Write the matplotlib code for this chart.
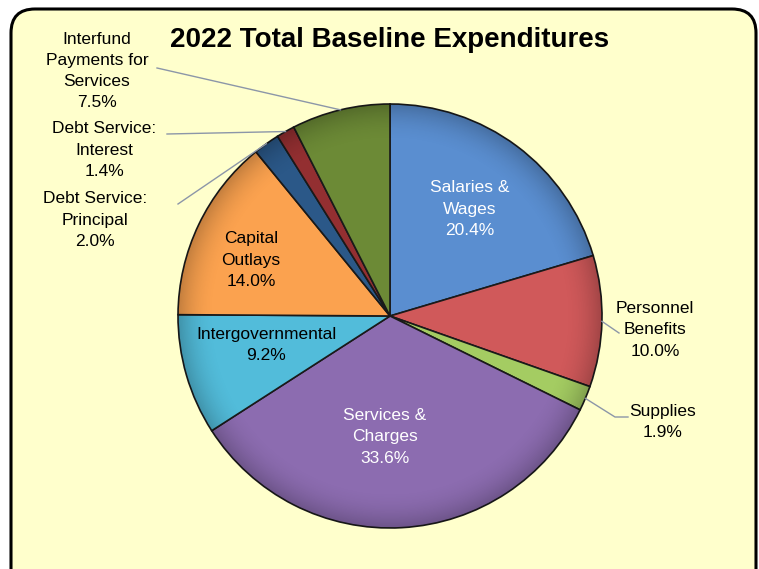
import numpy as np
import matplotlib.pyplot as plt
from matplotlib.patches import FancyBboxPatch, Circle

plt.rcParams['font.family'] = ['Liberation Sans', 'DejaVu Sans']

# data
categories = ['Salaries &\nWages', 'Personnel\nBenefits', 'Supplies', 'Services &\nCharges',
              'Intergovernmental', 'Capital\nOutlays', 'Debt Service:\nPrincipal',
              'Debt Service:\nInterest', 'Interfund\nPayments for\nServices']
shares = [20.4, 10.0, 1.9, 33.6, 9.2, 14.0, 2.0, 1.4, 7.5]
colors = ['#5A8ED0', '#D0595A', '#A4CC62', '#8C6CB0', '#52BCDA',
          '#FBA24F', '#2B5888', '#932F31', '#6C8A36']

W, H = 759, 569
fig = plt.figure(figsize=(W / 100, H / 100), dpi=100)
fig.patch.set_facecolor('white')
ax = fig.add_axes([0, 0, 1, 1])

# rounded panel
panel = FancyBboxPatch((11, -40), 745, H - 9 + 40, boxstyle='round,pad=0,rounding_size=24',
                       facecolor='#FFFFCC', edgecolor='black', linewidth=2.2, zorder=0)
ax.add_patch(panel)

cx, cy, R = 390, H - 316, 212
wedges, _ = ax.pie(shares, colors=colors, startangle=90, counterclock=False,
                   center=(cx, cy), radius=R, frame=True,
                   wedgeprops=dict(edgecolor='#1a1a1a', linewidth=1.2))
ax.set_xlim(0, W)
ax.set_ylim(0, H)
ax.set_aspect('equal')
ax.axis('off')
for w in wedges:
    w.set_zorder(2)

# subtle rim shading, clipped to the pie
gx, gy = np.meshgrid(np.linspace(-1, 1, 400), np.linspace(-1, 1, 400))
rr = np.hypot(gx, gy)
shade = np.zeros((400, 400, 4))
shade[..., 3] = np.clip((rr - 0.82) / 0.18, 0, 1) ** 2 * 0.22
img = ax.imshow(shade, extent=(cx - R, cx + R, cy - R, cy + R), origin='lower',
                zorder=3, interpolation='bilinear')
img.set_clip_path(Circle((cx, cy), R, transform=ax.transData))
ax.set_xlim(0, W)
ax.set_ylim(0, H)

def lab(i):
    return f"{categories[i]}\n{shares[i]:.1f}%"

fs = 12.5
ls = 1.52
# inside labels
inside = {0: (470, 209, 'white'), 3: (385, 437, 'white'),
          4: (266, 345, 'black'), 5: (251, 260, 'black')}
for i, (x, y, col) in inside.items():
    ax.text(x, H - y, lab(i), ha='center', va='center', fontsize=fs, color=col,
            linespacing=ls, zorder=5)

# outside labels with leader lines (anchor points, optional elbow)
outside = {1: (655, 330, [(619, 333)]),
           2: (663, 422, [(628, 417), (615, 417)]),
           8: (97, 71, [(157, 68)]),
           7: (104, 150, [(167, 134)]),
           6: (95, 220, [(178, 204)])}
for i, (x, y, pts) in outside.items():
    ax.text(x, H - y, lab(i), ha='center', va='center', fontsize=fs, color='black',
            linespacing=ls, zorder=5)
    w = wedges[i]
    mid = np.deg2rad((w.theta1 + w.theta2) / 2)
    ex, ey = cx + R * np.cos(mid), cy + R * np.sin(mid)
    xs = [p[0] for p in pts] + [ex]
    ys = [H - p[1] for p in pts] + [ey]
    ax.plot(xs, ys, color='#8c96a8', linewidth=1.0, zorder=4)

ax.text(390, H - 40, '2022 Total Baseline Expenditures', ha='center', va='center',
        fontsize=20, fontweight='bold', zorder=5)

fig.savefig('out.png', dpi=100)
